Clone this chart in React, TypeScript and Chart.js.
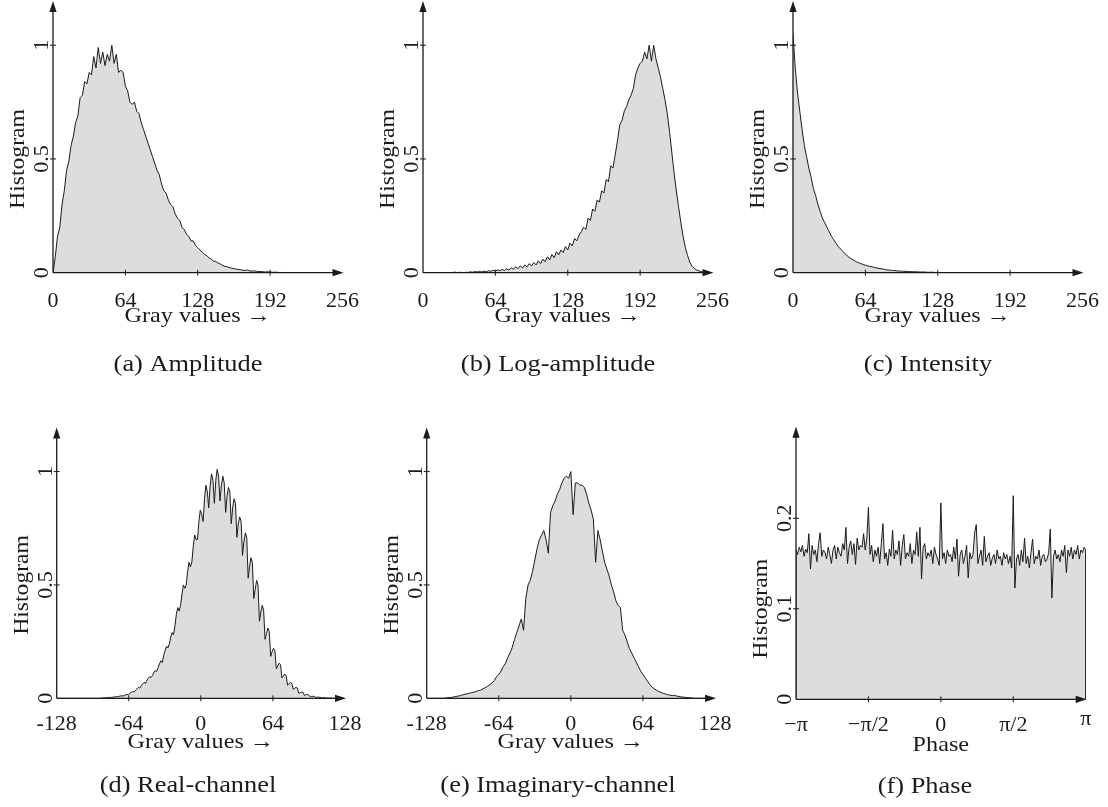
import React, { useEffect, useRef } from 'react';
import { Chart, registerables } from 'chart.js';
Chart.register(...registerables);

// ---------------- DATA ----------------
const GRAY_STEP = 2; // bin width of the 0..255 histograms
const AMPLITUDE = [
  0, 0.07, 0.16, 0.2, 0.3, 0.36, 0.45, 0.49, 0.56, 0.6,
  0.66, 0.69, 0.77, 0.78, 0.84, 0.83, 0.88, 0.87, 0.95, 0.9,
  0.99, 0.92, 0.97, 0.91, 0.96, 0.93, 1.0, 0.92, 0.96, 0.88,
  0.89, 0.88, 0.82, 0.8, 0.75, 0.74, 0.75, 0.71, 0.7, 0.66,
  0.63, 0.6, 0.57, 0.54, 0.51, 0.48, 0.45, 0.43, 0.39, 0.36,
  0.35, 0.32, 0.3, 0.29, 0.26, 0.24, 0.23, 0.2, 0.19, 0.17,
  0.16, 0.14, 0.14, 0.12, 0.11, 0.1, 0.09, 0.08, 0.075, 0.065,
  0.06, 0.05, 0.05, 0.042, 0.038, 0.032, 0.028, 0.026, 0.022, 0.02,
  0.018, 0.016, 0.014, 0.013, 0.011, 0.01, 0.012, 0.008, 0.007, 0.008,
  0.006, 0.005, 0.005, 0.004, 0.003, 0.004, 0.003, 0.002, 0.002, 0.002,
  0.001, 0.001, 0, 0.001, 0, 0, 0.001, 0, 0, 0,
  0, 0, 0, 0, 0, 0, 0, 0, 0, 0,
  0, 0, 0, 0, 0, 0, 0, 0,
];
const LOG_AMPLITUDE = [
  0, 0, 0, 0, 0, 0, 0.001, 0, 0, 0,
  0, 0, 0.001, 0, 0.003, 0, 0.002, 0.001, 0, 0.002,
  0.001, 0.004, 0.002, 0.005, 0.003, 0.006, 0.003, 0.007, 0.004, 0.009,
  0.006, 0.011, 0.007, 0.012, 0.009, 0.014, 0.01, 0.017, 0.012, 0.022,
  0.015, 0.026, 0.018, 0.03, 0.021, 0.034, 0.026, 0.04, 0.03, 0.045,
  0.034, 0.052, 0.04, 0.06, 0.048, 0.07, 0.056, 0.08, 0.066, 0.092,
  0.078, 0.1, 0.088, 0.115, 0.1, 0.13, 0.118, 0.15, 0.14, 0.165,
  0.18, 0.2, 0.19, 0.24, 0.23, 0.28, 0.27, 0.32, 0.31, 0.36,
  0.35, 0.41, 0.4, 0.47, 0.46, 0.52, 0.58, 0.65, 0.67, 0.71,
  0.73, 0.76, 0.78, 0.81, 0.87, 0.9, 0.92, 0.93, 0.97, 0.94,
  1.0, 0.93, 1.0, 0.94, 0.9, 0.86, 0.81, 0.76, 0.7, 0.62,
  0.53, 0.44, 0.36, 0.29, 0.22, 0.16, 0.11, 0.075, 0.045, 0.028,
  0.018, 0.012, 0.008, 0.005, 0.003, 0.002, 0.001, 0,
];
const INTENSITY = [
  1.05, 0.9, 0.79, 0.71, 0.63, 0.56, 0.51, 0.46, 0.42, 0.37,
  0.34, 0.3, 0.27, 0.24, 0.22, 0.2, 0.18, 0.16, 0.145, 0.13,
  0.115, 0.105, 0.094, 0.084, 0.074, 0.066, 0.06, 0.054, 0.048, 0.044,
  0.04, 0.036, 0.033, 0.03, 0.028, 0.026, 0.023, 0.021, 0.019, 0.017,
  0.016, 0.013, 0.012, 0.011, 0.01, 0.009, 0.008, 0.007, 0.007, 0.006,
  0.006, 0.005, 0.005, 0.004, 0.004, 0.004, 0.003, 0.003, 0.003, 0.002,
  0.002, 0.002, 0.002, 0.001, 0.001, 0.001, 0, 0, 0, 0,
  0, 0, 0, 0, 0, 0, 0, 0, 0, 0,
  0, 0, 0, 0, 0, 0, 0, 0, 0, 0,
  0, 0, 0, 0, 0, 0, 0, 0, 0, 0,
  0, 0, 0, 0, 0, 0, 0, 0, 0, 0,
  0, 0, 0, 0, 0, 0, 0, 0, 0, 0,
  0, 0, 0, 0, 0, 0, 0, 0,
];

const REAL_START = -128;
const REAL_STEP = 1.25;
const REAL_CHANNEL = [
  0, 0, 0, 0, 0, 0, 0, 0, 0, 0, 0, 0, 0, 0, 0, 0,
  0, 0, 0, 0, 0, 0, 0, 0, 0, 0, 0, 0, 0, 0, 0, 0,
  0.001, 0.002, 0.002, 0.002, 0.003, 0.004, 0.004, 0.004,
  0.005, 0.006, 0.007, 0.007, 0.008, 0.01, 0.011, 0.01,
  0.013, 0.015, 0.017, 0.016, 0.022, 0.026, 0.03, 0.028,
  0.036, 0.042, 0.048, 0.045, 0.055, 0.063, 0.07, 0.066,
  0.078, 0.088, 0.095, 0.092, 0.1, 0.113, 0.123, 0.118,
  0.135, 0.152, 0.165, 0.158, 0.19, 0.21, 0.23, 0.222,
  0.24, 0.27, 0.29, 0.28, 0.32, 0.37, 0.4, 0.385,
  0.41, 0.46, 0.5, 0.485, 0.5, 0.56, 0.6, 0.58,
  0.6, 0.67, 0.72, 0.7, 0.7, 0.78, 0.83, 0.81,
  0.78, 0.88, 0.94, 0.91, 0.84, 0.94, 0.99, 0.96,
  0.86, 0.96, 1.01, 0.98, 0.87, 0.94, 0.98, 0.95,
  0.82, 0.89, 0.93, 0.91, 0.77, 0.84, 0.88, 0.86,
  0.71, 0.77, 0.8, 0.78, 0.63, 0.69, 0.73, 0.71,
  0.53, 0.58, 0.62, 0.6, 0.44, 0.48, 0.52, 0.5,
  0.34, 0.38, 0.41, 0.39, 0.26, 0.285, 0.31, 0.295,
  0.185, 0.205, 0.22, 0.21, 0.13, 0.142, 0.155, 0.148,
  0.09, 0.098, 0.107, 0.1, 0.058, 0.064, 0.07, 0.066,
  0.04, 0.044, 0.048, 0.045, 0.022, 0.025, 0.028, 0.026,
  0.013, 0.015, 0.017, 0.015, 0.007, 0.008, 0.009, 0.008,
  0.004, 0.005, 0.005, 0.004, 0.002, 0.002, 0.003, 0.002,
  0.001, 0.001, 0.001, 0.001,
  0, 0, 0, 0, 0, 0, 0, 0, 0,
];

const IMAG_START = -128;
const IMAG_STEP = 2;
const IMAG_CHANNEL = [
  0, 0, 0, 0, 0, 0, 0, 0, 0,
  0.002, 0.003, 0.004, 0.006, 0.008, 0.01, 0.012, 0.015, 0.018, 0.02,
  0.022, 0.025, 0.027, 0.03, 0.034, 0.036, 0.042, 0.047, 0.053, 0.06,
  0.068, 0.078, 0.095, 0.105, 0.12, 0.14, 0.155, 0.18, 0.2, 0.225,
  0.26, 0.29, 0.32, 0.35, 0.3, 0.44, 0.5, 0.52, 0.56, 0.61,
  0.66, 0.7, 0.72, 0.74, 0.7, 0.64, 0.82, 0.85, 0.87, 0.9,
  0.92, 0.95, 0.97, 0.98, 0.97, 1.0, 0.81, 0.95, 0.95, 0.94,
  0.94, 0.93, 0.9, 0.86, 0.83, 0.79, 0.6, 0.74, 0.7, 0.65,
  0.6, 0.57, 0.54, 0.5, 0.47, 0.43, 0.41, 0.4, 0.3, 0.28,
  0.25, 0.22, 0.2, 0.18, 0.16, 0.14, 0.12, 0.105, 0.09, 0.076,
  0.062, 0.05, 0.042, 0.036, 0.03, 0.026, 0.022, 0.019, 0.016, 0.014,
  0.012, 0.013, 0.01, 0.008, 0.006, 0.005, 0.004, 0.003, 0.002, 0.001,
  0, 0, 0, 0, 0, 0, 0, 0, 0, 0,
];

const PHASE_STEP_DEG = 2;
const PHASE = [
  0.165, 0.16, 0.168, 0.163, 0.17, 0.158, 0.166, 0.162, 0.183, 0.144,
  0.17, 0.16, 0.165, 0.152, 0.172, 0.184, 0.158, 0.165, 0.162, 0.155,
  0.168, 0.16, 0.15, 0.165, 0.17, 0.155, 0.168, 0.162, 0.158, 0.172,
  0.165, 0.19, 0.15, 0.168, 0.175, 0.16, 0.172, 0.149, 0.178, 0.165,
  0.17, 0.168, 0.183, 0.165, 0.178, 0.212, 0.16, 0.17, 0.152, 0.165,
  0.158, 0.168, 0.15, 0.172, 0.194, 0.155, 0.162, 0.148, 0.166, 0.158,
  0.187, 0.155, 0.165, 0.16, 0.175, 0.148, 0.17, 0.182, 0.155, 0.162,
  0.158, 0.172, 0.15, 0.165, 0.16, 0.185, 0.158, 0.19, 0.133, 0.168,
  0.172, 0.155, 0.162, 0.158, 0.165, 0.15, 0.168, 0.16, 0.155, 0.148,
  0.217, 0.155, 0.162, 0.15, 0.165, 0.158, 0.16, 0.152, 0.168, 0.155,
  0.177, 0.136, 0.16, 0.165, 0.15, 0.158, 0.17, 0.134, 0.162, 0.155,
  0.16, 0.184, 0.193, 0.15, 0.158, 0.165, 0.148, 0.18, 0.152, 0.158,
  0.162, 0.148, 0.156, 0.16, 0.15, 0.165, 0.155, 0.158, 0.148, 0.162,
  0.155, 0.16, 0.15, 0.158, 0.145, 0.225, 0.123, 0.155, 0.16, 0.148,
  0.165, 0.152, 0.178, 0.15, 0.158, 0.145, 0.162, 0.177, 0.15, 0.158,
  0.155, 0.165, 0.148, 0.158, 0.16, 0.152, 0.155, 0.162, 0.188, 0.112,
  0.158, 0.165, 0.155, 0.16, 0.152, 0.165, 0.158, 0.17, 0.14, 0.165,
  0.158, 0.168, 0.155, 0.165, 0.16, 0.17, 0.155, 0.165, 0.162, 0.168,
  0.165,
];

const GRAY_TICKS = [0, 64, 128, 192, 256];
const GRAY_TICK_LABELS = ['0', '64', '128', '192', '256'];
const CHANNEL_TICKS = [-128, -64, 0, 64, 128];
const CHANNEL_TICK_LABELS = ['-128', '-64', '0', '64', '128'];
const PHASE_TICKS = [-Math.PI, -Math.PI / 2, 0, Math.PI / 2, Math.PI];
const PHASE_TICK_LABELS = ['\u2212\u03c0', '\u2212\u03c0/2', '0', '\u03c0/2', '\u03c0'];
const HIST_TICKS = [0, 0.5, 1];
const HIST_TICK_LABELS = ['0', '0.5', '1'];
const PHASE_HIST_TICKS = [0, 0.1, 0.2];
const PHASE_HIST_TICK_LABELS = ['0', '0.1', '0.2'];
const Y_TITLE = 'Histogram';
const GRAY_TITLE = 'Gray values \u2192';
const PHASE_TITLE = 'Phase';
const CAPTIONS = [
  '(a) Amplitude',
  '(b) Log-amplitude',
  '(c) Intensity',
  '(d) Real-channel',
  '(e) Imaginary-channel',
  '(f) Phase',
];

// ---------------- STYLE / LAYOUT ----------------
const FONT = '"Liberation Serif", "Times New Roman", serif';
const INK = '#1b1b1b';
const FILL = '#dcdddf';
const CANVAS_W = 368;

const TOP_ROW = { top: 0, height: 400, pad: { left: 53, right: 25.5, top: 2, bottom: 127.3 }, tickDy: 34.5, titleDy: 49, captionY: 371, raiseLast: 0 };
const BOTTOM_ROW = { top: 400, height: 407, pad: { left: 56.7, right: 23, top: 28.5, bottom: 108.7 }, tickDy: 31.7, titleDy: 49.4, captionY: 391.5, raiseLast: 0 };
const PHASE_ROW = { top: 400, height: 407, pad: { left: 56, right: 22.3, top: 27.8, bottom: 107.7 }, tickDy: 31.7, titleDy: 52, captionY: 393, raiseLast: 6 };

type PanelCfg = {
  left: number;
  row: typeof TOP_ROW;
  points: { x: number; y: number }[];
  xMin: number; xMax: number; yMax: number;
  xTicks: number[]; xLabels: string[];
  yTicks: number[]; yLabels: string[];
  xTitle: string; caption: string; captionX: number;
};

const toPoints = (vals: number[], start: number, step: number) => vals.map((v, i) => ({ x: start + i * step, y: v }));
const phasePoints = [
  { x: -Math.PI, y: 0 },
  ...PHASE.map((v, i) => ({ x: -Math.PI + (i * PHASE_STEP_DEG * Math.PI) / 180, y: v })),
  { x: Math.PI, y: 0 },
];

const PANELS: PanelCfg[] = [
  { left: 0, row: TOP_ROW, points: toPoints(AMPLITUDE, 0, GRAY_STEP), xMin: 0, xMax: 256, yMax: 1.19, xTicks: GRAY_TICKS, xLabels: GRAY_TICK_LABELS, yTicks: HIST_TICKS, yLabels: HIST_TICK_LABELS, xTitle: GRAY_TITLE, caption: CAPTIONS[0], captionX: 188 },
  { left: 370, row: TOP_ROW, points: toPoints(LOG_AMPLITUDE, 0, GRAY_STEP), xMin: 0, xMax: 256, yMax: 1.19, xTicks: GRAY_TICKS, xLabels: GRAY_TICK_LABELS, yTicks: HIST_TICKS, yLabels: HIST_TICK_LABELS, xTitle: GRAY_TITLE, caption: CAPTIONS[1], captionX: 188 },
  { left: 740, row: TOP_ROW, points: toPoints(INTENSITY, 0, GRAY_STEP), xMin: 0, xMax: 256, yMax: 1.19, xTicks: GRAY_TICKS, xLabels: GRAY_TICK_LABELS, yTicks: HIST_TICKS, yLabels: HIST_TICK_LABELS, xTitle: GRAY_TITLE, caption: CAPTIONS[2], captionX: 188 },
  { left: 0, row: BOTTOM_ROW, points: toPoints(REAL_CHANNEL, REAL_START, REAL_STEP), xMin: -128, xMax: 128, yMax: 1.19, xTicks: CHANNEL_TICKS, xLabels: CHANNEL_TICK_LABELS, yTicks: HIST_TICKS, yLabels: HIST_TICK_LABELS, xTitle: GRAY_TITLE, caption: CAPTIONS[3], captionX: 188 },
  { left: 370, row: BOTTOM_ROW, points: toPoints(IMAG_CHANNEL, IMAG_START, IMAG_STEP), xMin: -128, xMax: 128, yMax: 1.19, xTicks: CHANNEL_TICKS, xLabels: CHANNEL_TICK_LABELS, yTicks: HIST_TICKS, yLabels: HIST_TICK_LABELS, xTitle: GRAY_TITLE, caption: CAPTIONS[4], captionX: 188 },
  { left: 740, row: PHASE_ROW, points: phasePoints, xMin: -Math.PI, xMax: Math.PI, yMax: 0.3, xTicks: PHASE_TICKS, xLabels: PHASE_TICK_LABELS, yTicks: PHASE_HIST_TICKS, yLabels: PHASE_HIST_TICK_LABELS, xTitle: PHASE_TITLE, caption: CAPTIONS[5], captionX: 185 },
];

function drawText(ctx: CanvasRenderingContext2D, text: string, x: number, y: number, size: number, stretch: number, rotate: boolean) {
  ctx.save();
  ctx.translate(x, y);
  if (rotate) ctx.rotate(-Math.PI / 2);
  ctx.scale(stretch, 1);
  ctx.font = `${size}px ${FONT}`;
  ctx.fillStyle = INK;
  ctx.textAlign = 'center';
  ctx.textBaseline = 'alphabetic';
  ctx.fillText(text, 0, 0);
  ctx.restore();
}

function makeDecor(cfg: PanelCfg) {
  return {
    id: 'decor',
    afterDraw(chart: any) {
      const ctx: CanvasRenderingContext2D = chart.ctx;
      const xs = chart.scales.x;
      const ys = chart.scales.y;
      const x0 = xs.getPixelForValue(cfg.xMin);
      const x1 = xs.getPixelForValue(cfg.xMax);
      const yb = ys.getPixelForValue(0);
      const yt = ys.getPixelForValue(cfg.yMax);
      ctx.save();
      ctx.strokeStyle = INK;
      ctx.fillStyle = INK;
      ctx.lineWidth = 1.3;
      // axes lines
      ctx.beginPath();
      ctx.moveTo(x0, yb);
      ctx.lineTo(x1 - 6, yb);
      ctx.moveTo(x0, yb);
      ctx.lineTo(x0, yt + 6);
      ctx.stroke();
      // arrow heads
      ctx.beginPath();
      ctx.moveTo(x1 + 1, yb);
      ctx.lineTo(x1 - 10, yb - 3.6);
      ctx.lineTo(x1 - 10, yb + 3.6);
      ctx.closePath();
      ctx.fill();
      ctx.beginPath();
      ctx.moveTo(x0, yt - 1);
      ctx.lineTo(x0 - 3.6, yt + 10);
      ctx.lineTo(x0 + 3.6, yt + 10);
      ctx.closePath();
      ctx.fill();
      // tick marks
      ctx.lineWidth = 1;
      ctx.beginPath();
      cfg.xTicks.forEach((t, i) => {
        if (i === 0 || i === cfg.xTicks.length - 1) return;
        const px = xs.getPixelForValue(t);
        ctx.moveTo(px, yb - 3);
        ctx.lineTo(px, yb + 3);
      });
      cfg.yTicks.forEach((t, i) => {
        if (i === 0) return;
        const py = ys.getPixelForValue(t);
        ctx.moveTo(x0 - 3, py);
        ctx.lineTo(x0 + 3, py);
      });
      ctx.stroke();
      // x tick labels
      cfg.xTicks.forEach((t, i) => {
        const px = xs.getPixelForValue(t);
        const raise = i === cfg.xTicks.length - 1 ? cfg.row.raiseLast : 0;
        drawText(ctx, cfg.xLabels[i], px, yb + cfg.row.tickDy - raise, 22, 1.0, false);
      });
      // y tick labels (rotated)
      cfg.yTicks.forEach((t, i) => {
        const py = ys.getPixelForValue(t);
        drawText(ctx, cfg.yLabels[i], x0 - 5, py, 22, 1.0, true);
      });
      // titles
      drawText(ctx, cfg.xTitle, (x0 + x1) / 2, yb + cfg.row.titleDy, 22, 1.1, false);
      const yMid = ys.getPixelForValue(cfg.yTicks[cfg.yTicks.length - 1] / 2);
      drawText(ctx, Y_TITLE, x0 - 29, yMid, 22, 1.075, true);
      // caption
      drawText(ctx, cfg.caption, cfg.captionX, cfg.row.captionY, 24, 1.1, false);
      ctx.restore();
    },
  };
}

function Panel({ cfg }: { cfg: PanelCfg }) {
  const ref = useRef<HTMLCanvasElement>(null);
  useEffect(() => {
    const chart = new Chart(ref.current as HTMLCanvasElement, {
      type: 'line',
      data: {
        datasets: [
          {
            data: cfg.points,
            borderColor: INK,
            borderWidth: 1,
            backgroundColor: FILL,
            fill: 'origin',
            pointRadius: 0,
            tension: 0,
          },
        ],
      },
      options: {
        responsive: false,
        animation: false,
        devicePixelRatio: 1,
        events: [],
        parsing: false as any,
        layout: { padding: cfg.row.pad },
        scales: {
          x: { type: 'linear', min: cfg.xMin, max: cfg.xMax, display: false },
          y: { type: 'linear', min: 0, max: cfg.yMax, display: false },
        },
        plugins: { legend: { display: false }, tooltip: { enabled: false } },
      },
      plugins: [makeDecor(cfg)],
    } as any);
    return () => chart.destroy();
  }, [cfg]);
  return (
    <canvas
      ref={ref}
      width={CANVAS_W}
      height={cfg.row.height}
      style={{ position: 'absolute', left: cfg.left, top: cfg.row.top, width: CANVAS_W, height: cfg.row.height }}
    />
  );
}

export default function App() {
  return (
    <div style={{ position: 'absolute', left: 0, top: 0, width: 1108, height: 807, background: '#ffffff', overflow: 'hidden' }}>
      {PANELS.map((p, i) => (
        <Panel key={i} cfg={p} />
      ))}
    </div>
  );
}
